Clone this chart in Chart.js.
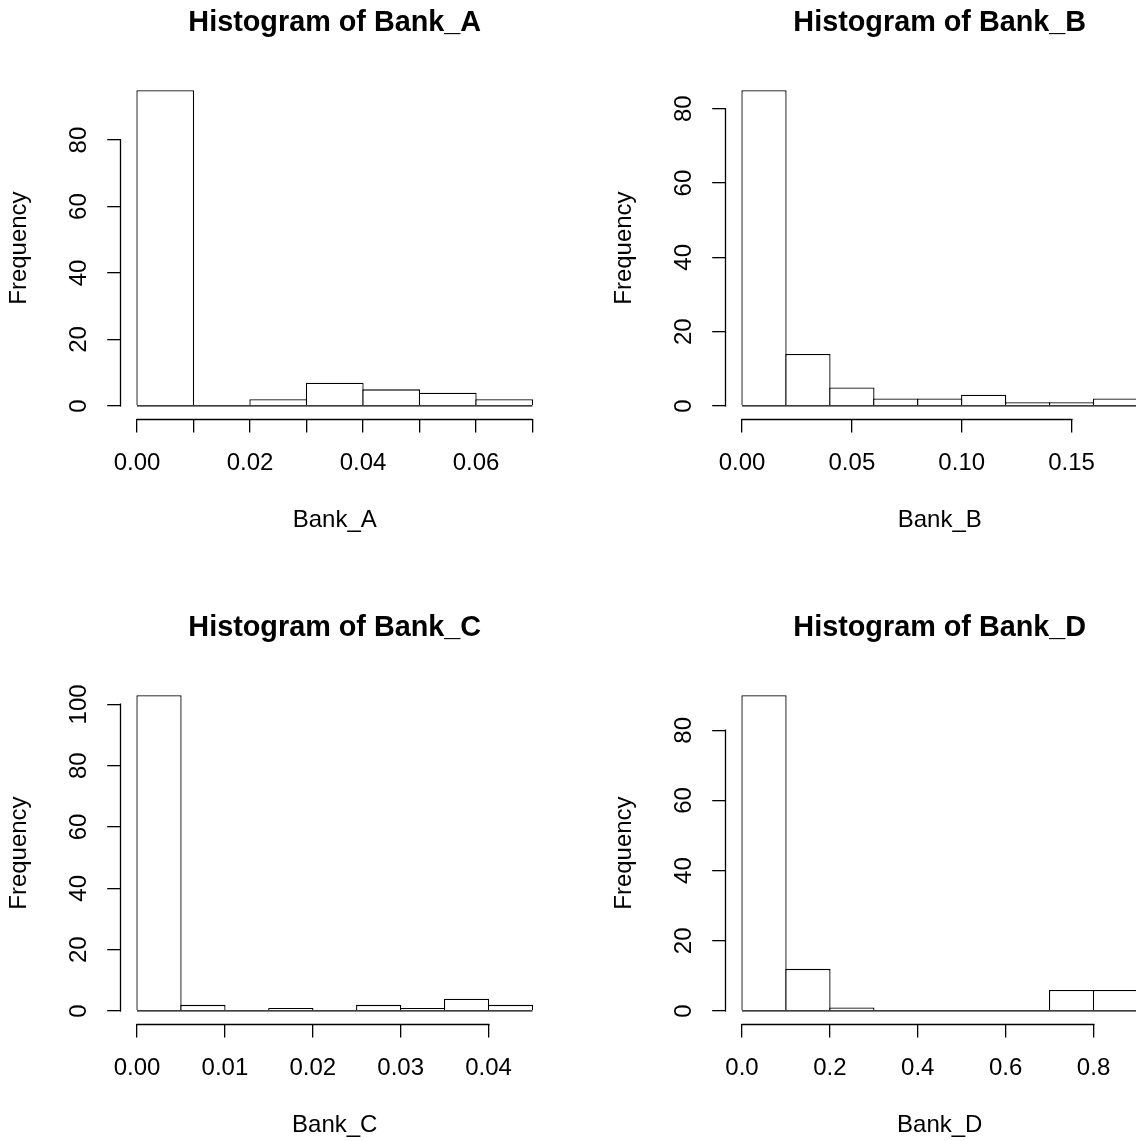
<!DOCTYPE html>
<html>
<head>
<meta charset="utf-8">
<title>Histograms of Bank_A to Bank_D</title>
<script src="https://cdn.jsdelivr.net/npm/chart.js@4.4.1/dist/chart.umd.min.js"></script>
<style>
  html, body { margin: 0; padding: 0; background: #fff; overflow: hidden; }
  #grid { position: relative; width: 1136px; height: 1141px; overflow: hidden; }
  #grid canvas { position: absolute; }
</style>
</head>
<body>
<div id="grid">
  <canvas id="histA" width="605" height="605" style="left:0px;top:0px"></canvas>
  <canvas id="histB" width="605" height="605" style="left:605px;top:0px"></canvas>
  <canvas id="histC" width="605" height="605" style="left:0px;top:605px"></canvas>
  <canvas id="histD" width="605" height="605" style="left:605px;top:605px"></canvas>
</div>
<script>
// bin edges and counts for each bank (115 observations each)
var breaksA = [0, 0.01, 0.02, 0.03, 0.04, 0.05, 0.06, 0.07];
var countsA = [95, 0, 2, 7, 5, 4, 2];
var xTicksA = [0, 0.01, 0.02, 0.03, 0.04, 0.05, 0.06, 0.07];
var xLabelsA = ["0.00", "", "0.02", "", "0.04", "", "0.06", ""];
var yTicksA = [0, 20, 40, 60, 80];

var breaksB = [0, 0.02, 0.04, 0.06, 0.08, 0.10, 0.12, 0.14, 0.16, 0.18];
var countsB = [85, 14, 5, 2, 2, 3, 1, 1, 2];
var xTicksB = [0, 0.05, 0.10, 0.15];
var xLabelsB = ["0.00", "0.05", "0.10", "0.15"];
var yTicksB = [0, 20, 40, 60, 80];

var breaksC = [0, 0.005, 0.01, 0.015, 0.02, 0.025, 0.03, 0.035, 0.04, 0.045];
var countsC = [103, 2, 0, 1, 0, 2, 1, 4, 2];
var xTicksC = [0, 0.01, 0.02, 0.03, 0.04];
var xLabelsC = ["0.00", "0.01", "0.02", "0.03", "0.04"];
var yTicksC = [0, 20, 40, 60, 80, 100];

var breaksD = [0, 0.1, 0.2, 0.3, 0.4, 0.5, 0.6, 0.7, 0.8, 0.9];
var countsD = [90, 12, 1, 0, 0, 0, 0, 6, 6];
var xTicksD = [0, 0.2, 0.4, 0.6, 0.8];
var xLabelsD = ["0.0", "0.2", "0.4", "0.6", "0.8"];
var yTicksD = [0, 20, 40, 60, 80];

// panel geometry (R-like margins)
var PANEL = 605;
var AREA_LEFT = 121.2;
var AREA_RIGHT_PAD = 56.7;
var X_AXIS_H = 186.4;
var AREA_W = PANEL - AREA_LEFT - AREA_RIGHT_PAD;
var TICK_LEN = 14;
var YLABEL_CENTER = 79;
var LINE_W = 1.3;

var FONT = "'Liberation Sans', Arial, Helvetica, sans-serif";

var measureCtx = document.createElement('canvas').getContext('2d');
measureCtx.font = '24px ' + FONT;

// draws the axis line from the first to the last tick only
var axisLines = {
  id: 'axisLines',
  afterDraw: function (chart) {
    var ctx = chart.ctx;
    var xs = chart.scales.x, ys = chart.scales.y;
    var x0 = Math.round(xs.getPixelForValue(xs.ticks[0].value));
    var x1 = Math.round(xs.getPixelForValue(xs.ticks[xs.ticks.length - 1].value));
    var y0 = Math.round(ys.getPixelForValue(ys.ticks[0].value));
    var y1 = Math.round(ys.getPixelForValue(ys.ticks[ys.ticks.length - 1].value));
    var ax = Math.round(xs.top) + 0.5;
    var ay = Math.round(ys.right) - 0.5;
    ctx.save();
    ctx.strokeStyle = '#000';
    ctx.lineWidth = LINE_W;
    ctx.beginPath();
    ctx.moveTo(x0 - 0.5, ax);
    ctx.lineTo(x1 + 0.5, ax);
    ctx.moveTo(ay, y0 + 0.5);
    ctx.lineTo(ay, y1 - 0.5);
    ctx.stroke();
    ctx.restore();
  }
};

function makeHist(id, name, breaks, counts, xTicks, xLabels, yTicks) {
  var lo = breaks[0], hi = breaks[breaks.length - 1];
  var xPad = (hi - lo) * 0.04;
  var top = Math.max.apply(null, counts);
  var binPx = (breaks[1] - breaks[0]) / (hi - lo + 2 * xPad) * AREA_W;

  var bars = counts.map(function (c, i) {
    return { x: (breaks[i] + breaks[i + 1]) / 2, y: c };
  });

  var widest = 0;
  yTicks.forEach(function (t) {
    widest = Math.max(widest, measureCtx.measureText(String(t)).width);
  });

  new Chart(document.getElementById(id), {
    type: 'bar',
    data: {
      datasets: [
        {
          data: bars,
          backgroundColor: '#ffffff',
          borderColor: '#000000',
          borderWidth: LINE_W,
          borderSkipped: 'start',
          inflateAmount: 0,
          // a hair wider than the bin so neighbouring bars share one edge
          barPercentage: (binPx + LINE_W) / binPx,
          categoryPercentage: 1,
          order: 1
        },
        {
          // common bottom edge of all bins, empty ones included
          type: 'line',
          data: [{ x: lo, y: 0 }, { x: hi, y: 0 }],
          borderColor: '#000000',
          borderWidth: LINE_W,
          pointRadius: 0,
          fill: false,
          order: 0
        }
      ]
    },
    options: {
      responsive: false,
      animation: false,
      layout: { padding: { left: 0, top: 0, right: AREA_RIGHT_PAD, bottom: 0 } },
      plugins: {
        legend: { display: false },
        tooltip: { enabled: false },
        title: {
          display: true,
          text: 'Histogram of ' + name,
          color: '#000',
          fullSize: false,
          font: { family: FONT, size: 28.8, weight: 'bold' },
          padding: { top: 5.4, bottom: 37.6 }
        }
      },
      scales: {
        x: {
          type: 'linear',
          offset: false,
          min: lo - xPad,
          max: hi + xPad,
          border: { display: false },
          grid: { offset: false, drawOnChartArea: false, drawTicks: true, tickLength: TICK_LEN, color: '#000', lineWidth: LINE_W },
          afterBuildTicks: function (scale) {
            scale.ticks = xTicks.map(function (v) { return { value: v }; });
          },
          afterFit: function (scale) { scale.height = X_AXIS_H; },
          ticks: {
            autoSkip: false,
            maxRotation: 0,
            color: '#000',
            padding: 16,
            font: { family: FONT, size: 24 },
            callback: function (value, index) { return xLabels[index]; }
          },
          title: {
            display: true,
            text: name,
            color: '#000',
            font: { family: FONT, size: 24 },
            padding: { top: 0, bottom: 70.6 }
          }
        },
        y: {
          min: -top * 0.04,
          max: top * 1.04,
          border: { display: false },
          grid: { drawOnChartArea: false, drawTicks: true, tickLength: TICK_LEN, color: '#000', lineWidth: LINE_W },
          afterBuildTicks: function (scale) {
            scale.ticks = yTicks.map(function (v) { return { value: v }; });
          },
          afterFit: function (scale) { scale.width = AREA_LEFT; },
          ticks: {
            autoSkip: false,
            minRotation: 90,
            maxRotation: 90,
            crossAlign: 'center',
            color: '#000',
            padding: AREA_LEFT - YLABEL_CENTER - TICK_LEN - widest / 2,
            font: { family: FONT, size: 24 },
            callback: function (value) { return String(value); }
          },
          title: {
            display: true,
            text: 'Frequency',
            color: '#000',
            font: { family: FONT, size: 24 },
            padding: { top: 5.3, bottom: 0 }
          }
        }
      }
    },
    plugins: [axisLines]
  });
}

makeHist('histA', 'Bank_A', breaksA, countsA, xTicksA, xLabelsA, yTicksA);
makeHist('histB', 'Bank_B', breaksB, countsB, xTicksB, xLabelsB, yTicksB);
makeHist('histC', 'Bank_C', breaksC, countsC, xTicksC, xLabelsC, yTicksC);
makeHist('histD', 'Bank_D', breaksD, countsD, xTicksD, xLabelsD, yTicksD);
</script>
</body>
</html>
